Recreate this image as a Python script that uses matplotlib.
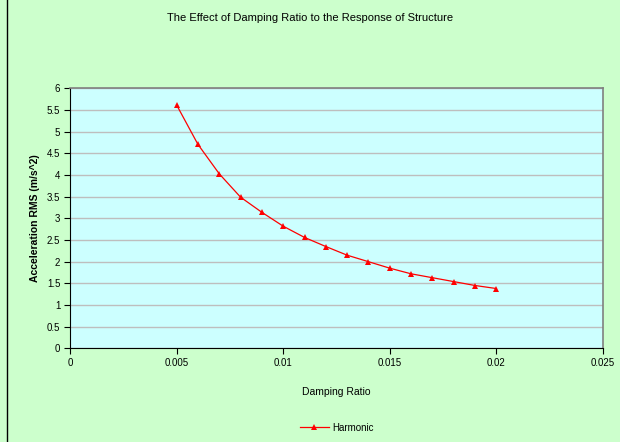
import matplotlib.pyplot as plt
from matplotlib.lines import Line2D

plt.rcParams['font.family'] = ['Liberation Sans', 'DejaVu Sans']

damping = [0.005, 0.006, 0.007, 0.008, 0.009, 0.010, 0.011, 0.012,
           0.013, 0.014, 0.015, 0.016, 0.017, 0.018, 0.019, 0.020]
acc_rms = [5.62, 4.71, 4.03, 3.49, 3.14, 2.82, 2.56, 2.35,
           2.15, 2.00, 1.85, 1.72, 1.63, 1.54, 1.45, 1.38]

xticks = [0, 0.005, 0.01, 0.015, 0.02, 0.025]
xtick_labels = ['0', '0.005', '0.01', '0.015', '0.02', '0.025']
yticks = [0, 0.5, 1, 1.5, 2, 2.5, 3, 3.5, 4, 4.5, 5, 5.5, 6]

fig = plt.figure(figsize=(6.2, 4.42), dpi=100, facecolor='#CCFFCC')
ax = fig.add_axes([0.1129, 0.212, 0.8597, 0.5878])
ax.set_facecolor('#CCFFFF')

ax.plot(damping, acc_rms, color='red', lw=0.9, marker='^', ms=4,
        markeredgewidth=0, label='Harmonic')

ax.set_xlim(0, 0.025)
ax.set_ylim(0, 6)
ax.set_xticks(xticks)
ax.set_xticklabels(xtick_labels)
ax.set_yticks(yticks)
ax.set_yticklabels([('%g' % v) for v in yticks])
ax.yaxis.grid(True, color='#BEBEBE', lw=1)
ax.set_axisbelow(True)
ax.tick_params(direction='out', length=4, width=0.8, labelsize=7, pad=3)

for s in ['top', 'right']:
    ax.spines[s].set_color('#808080')
    ax.spines[s].set_linewidth(1.2)
for s in ['left', 'bottom']:
    ax.spines[s].set_color('black')
    ax.spines[s].set_linewidth(0.8)

ax.set_xlabel('Damping Ratio', fontsize=7.5, labelpad=14)
ax.set_ylabel('Acceleration RMS (m/s^2)', fontsize=7.5, fontweight='bold',
              labelpad=5)
fig.text(0.5, 0.96, 'The Effect of Damping Ratio to the Response of Structure',
         ha='center', va='center', fontsize=8)

ax.legend(loc='center', bbox_to_anchor=(0.5, -0.305), frameon=False,
          fontsize=7, handlelength=3, handletextpad=0.3)

fig.add_artist(Line2D([7 / 620, 7 / 620], [0, 1], color='black', lw=1,
                      transform=fig.transFigure))

fig.savefig('out.png', dpi=100, facecolor=fig.get_facecolor())
